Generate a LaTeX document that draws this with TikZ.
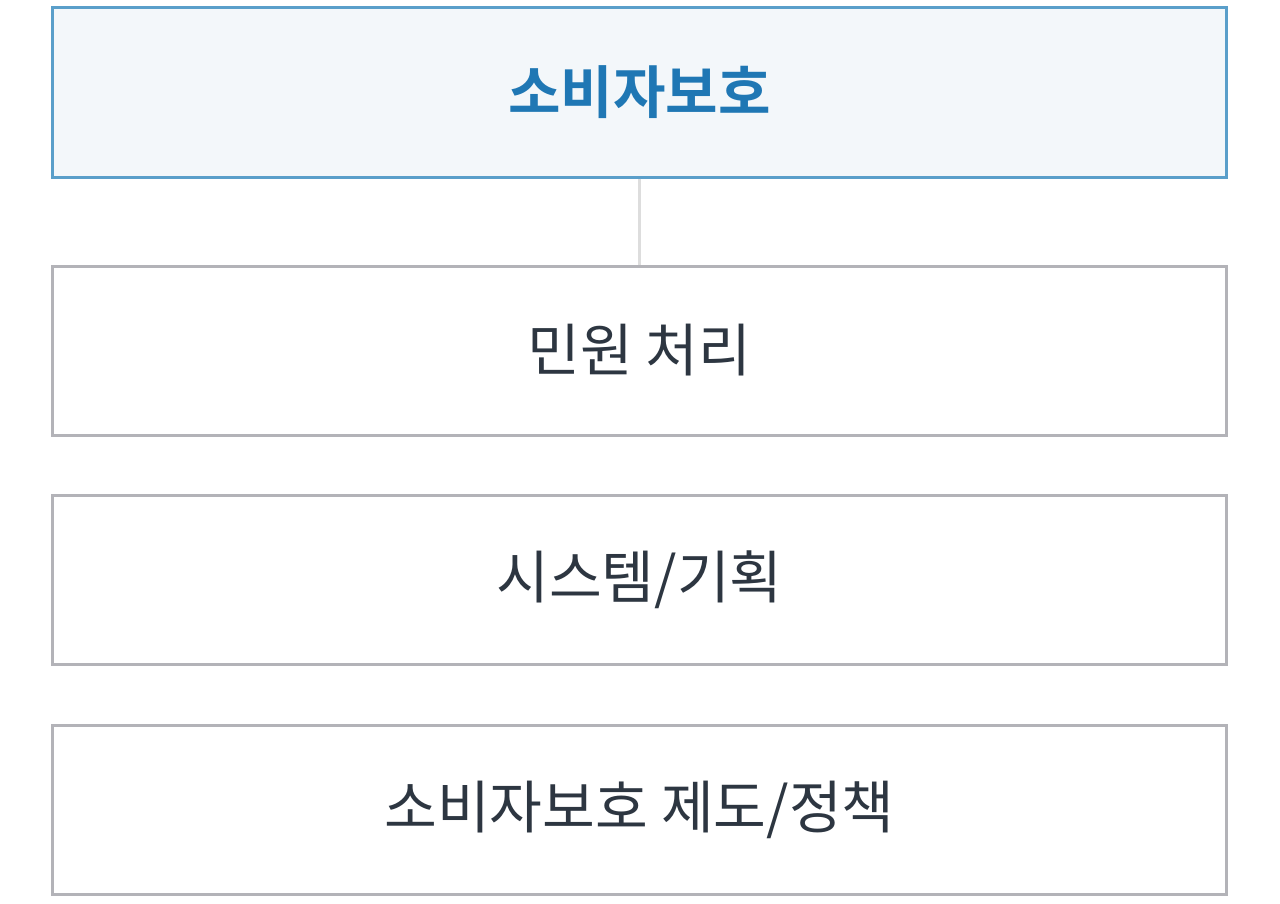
\documentclass[tikz,border=0pt]{standalone}
\usepackage{fontspec}
\newfontfamily\kr{Noto Sans CJK KR}
\newfontfamily\krb{Noto Sans CJK KR Bold}
\definecolor{topborder}{HTML}{5A9FCA}
\definecolor{topfill}{HTML}{F3F7FA}
\definecolor{toptext}{HTML}{1F77B4}
\definecolor{boxborder}{HTML}{B3B3B8}
\definecolor{boxtext}{HTML}{2D3641}
\definecolor{conn}{HTML}{DDDDDD}
\begin{document}
\begin{tikzpicture}[x=0.75pt,y=-0.75pt,
  topbox/.style={draw=topborder,fill=topfill,line width=2.25pt,minimum width=880.5pt,minimum height=127.5pt,inner sep=0pt,text=toptext,font=\krb\fontsize{42.8}{48}\selectfont},
  subbox/.style={draw=boxborder,fill=white,line width=2.25pt,minimum width=880.5pt,minimum height=126.75pt,inner sep=0pt,text=boxtext,font=\kr\fontsize{43}{48}\selectfont},
  link/.style={draw=conn,line width=2.25pt}]
\useasboundingbox (0,0) rectangle (1280,903);
\node[topbox] (top) at (639.5,92) {소비자보호};
\node[subbox] (a) at (639.5,350.5) {민원 처리};
\node[subbox] (b) at (639.5,579.5) {시스템/기획};
\node[subbox] (c) at (639.5,809.5) {소비자보호 제도/정책};
\draw[link] (top.south) -- (a.north);
\end{tikzpicture}
\end{document}
